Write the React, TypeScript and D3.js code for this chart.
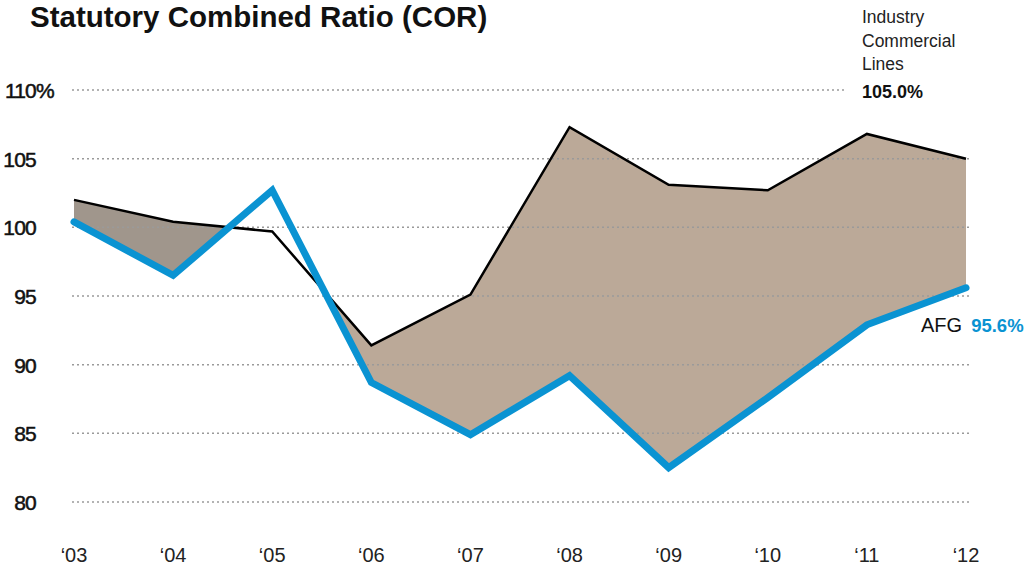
import * as d3 from "d3";
import { useEffect, useRef } from "react";

const years = ["'03", "'04", "'05", "'06", "'07", "'08", "'09", "'10", "'11", "'12"];
const industry = [102.0, 100.4, 99.7, 91.4, 95.1, 107.3, 103.1, 102.7, 106.8, 105.0];
const afg = [100.4, 96.5, 102.7, 88.7, 84.9, 89.2, 82.5, 87.6, 92.9, 95.6];
const yTicks = [80, 85, 90, 95, 100, 105, 110];

const W = 1029;
const H = 567;
const FONT = "'Liberation Sans', Arial, sans-serif";

export default function App() {
  const ref = useRef<SVGSVGElement>(null);

  useEffect(() => {
    const svg = d3.select(ref.current);
    svg.selectAll("*").remove();

    const x = d3.scalePoint<string>().domain(years).range([74, 966]);
    const y = d3.scaleLinear().domain([80, 110]).range([502, 90]);

    const defs = svg.append("defs");

    // clip: region above the AFG line (industry worse than AFG)
    const above = d3
      .area<number>()
      .x((_, i) => x(years[i])!)
      .y0(0)
      .y1((d) => y(d));
    defs.append("clipPath").attr("id", "aboveAfg").append("path").attr("d", above(afg)!);
    defs
      .append("clipPath")
      .attr("id", "early")
      .append("rect")
      .attr("x", 0)
      .attr("y", 0)
      .attr("width", x("'05")!)
      .attr("height", H);

    const band = d3
      .area<number>()
      .x((_, i) => x(years[i])!)
      .y0((_, i) => y(afg[i]))
      .y1((d) => y(d));

    const g = svg.append("g").attr("clip-path", "url(#aboveAfg)");
    g.append("path").attr("d", band(industry)!).attr("fill", "#bba998");
    g.append("g")
      .attr("clip-path", "url(#early)")
      .append("path")
      .attr("d", band(industry)!)
      .attr("fill", "#a0968c");

    // grid
    svg
      .append("g")
      .selectAll("line")
      .data(yTicks)
      .join("line")
      .attr("x1", 72)
      .attr("x2", (d) => (d === 110 ? 846 : 970))
      .attr("y1", (d) => y(d))
      .attr("y2", (d) => y(d))
      .attr("stroke", "#9a9a9a")
      .attr("stroke-width", 1.5)
      .attr("stroke-dasharray", "2,3");

    // y labels
    const yl = svg
      .append("g")
      .attr("font-family", FONT)
      .attr("font-size", 21)
      .attr("fill", "#111")
      .attr("stroke", "#111")
      .attr("stroke-width", 0.5)
      .attr("letter-spacing", -0.8);
    yl.selectAll("text.num")
      .data(yTicks)
      .join("text")
      .attr("class", "num")
      .attr("x", 36)
      .attr("y", (d) => y(d) + 8)
      .attr("text-anchor", "end")
      .text((d) => String(d));
    yl.append("text")
      .attr("x", 36)
      .attr("y", y(110) + 8)
      .text("%");

    // x labels
    svg
      .append("g")
      .selectAll("text")
      .data(years)
      .join("text")
      .attr("x", (d) => x(d)!)
      .attr("y", 562)
      .attr("text-anchor", "middle")
      .attr("font-family", FONT)
      .attr("font-size", 20)
      .attr("fill", "#222")
      .text((d) => d.replace("'", "\u2018"));

    const ln = d3
      .line<number>()
      .x((_, i) => x(years[i])!)
      .y((d) => y(d));

    svg
      .append("path")
      .attr("d", ln(industry)!)
      .attr("fill", "none")
      .attr("stroke", "#000")
      .attr("stroke-width", 2.5)
      .attr("stroke-linejoin", "miter");

    svg
      .append("path")
      .attr("d", ln(afg)!)
      .attr("fill", "none")
      .attr("stroke", "#0a93d2")
      .attr("stroke-width", 7)
      .attr("stroke-linecap", "round")
      .attr("stroke-linejoin", "miter");

    // title
    svg
      .append("text")
      .attr("x", 30)
      .attr("y", 27)
      .attr("font-family", FONT)
      .attr("font-weight", "bold")
      .attr("font-size", 29.5)
      .attr("fill", "#111")
      .text("Statutory Combined Ratio (COR)");

    // industry label
    const ind = svg
      .append("text")
      .attr("font-family", FONT)
      .attr("font-size", 17.5)
      .attr("fill", "#222");
    ["Industry", "Commercial", "Lines"].forEach((t, i) => {
      ind.append("tspan").attr("x", 862).attr("y", 23 + i * 23.5).text(t);
    });
    svg
      .append("text")
      .attr("x", 862)
      .attr("y", 98)
      .attr("font-family", FONT)
      .attr("font-size", 18)
      .attr("font-weight", "bold")
      .attr("fill", "#111")
      .text(industry[industry.length - 1].toFixed(1) + "%");

    // AFG label
    const a = svg
      .append("text")
      .attr("x", 921)
      .attr("y", 332)
      .attr("font-family", FONT)
      .attr("font-size", 20)
      .attr("fill", "#111")
      .text("AFG");
    a.append("tspan")
      .attr("dx", 9)
      .attr("font-size", 18.5)
      .attr("font-weight", "bold")
      .attr("fill", "#0a93d2")
      .text(afg[afg.length - 1].toFixed(1) + "%");
  }, []);

  return (
    <svg
      ref={ref}
      width={W}
      height={H}
      style={{ position: "absolute", left: 0, top: 0, background: "#fff" }}
    />
  );
}
